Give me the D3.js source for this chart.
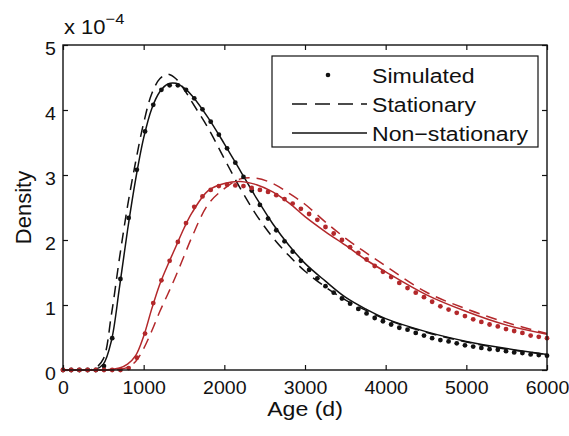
<!DOCTYPE html>
<html>
<head>
<meta charset="utf-8">
<script src="https://cdn.jsdelivr.net/npm/d3@7/dist/d3.min.js"></script>
<style>
body { margin: 0; background: #fff; }
svg { display: block; font-family: "Liberation Sans", Arial, Helvetica, sans-serif; }
</style>
</head>
<body>
<div id="chart"></div>
<script>
// simulated sample ages (60 samples, 0 .. 6000 d)
var simAge = [0, 102, 203, 305, 407, 508, 610, 712, 814, 915, 1017, 1119, 1220, 1322, 1424, 1525, 1627, 1729, 1831, 1932,
    2034, 2136, 2237, 2339, 2441, 2542, 2644, 2746, 2847, 2949, 3051, 3153, 3254, 3356, 3458, 3559, 3661, 3763, 3864, 3966,
    4068, 4169, 4271, 4373, 4475, 4576, 4678, 4780, 4881, 4983, 5085, 5186, 5288, 5390, 5492, 5593, 5695, 5797, 5898, 6000];
// density, in units of 1e-4
var simBlack = [0, 0, 0, 0, 0, 0.06, 0.49, 1.40, 2.34, 3.08, 3.67, 4.08, 4.31, 4.38, 4.38, 4.31, 4.18, 4.01, 3.82, 3.62,
    3.41, 3.19, 2.97, 2.76, 2.54, 2.33, 2.15, 1.98, 1.82, 1.68, 1.54, 1.41, 1.29, 1.19, 1.10, 1.02, 0.94, 0.87, 0.80, 0.75,
    0.70, 0.65, 0.62, 0.57, 0.53, 0.49, 0.46, 0.44, 0.41, 0.38, 0.36, 0.34, 0.32, 0.31, 0.29, 0.27, 0.26, 0.24, 0.23, 0.22];
var simRed = [0, 0, 0, 0, 0, 0, 0, 0, 0.03, 0.19, 0.56, 1.03, 1.38, 1.68, 1.97, 2.26, 2.51, 2.67, 2.77, 2.83,
    2.85, 2.84, 2.83, 2.80, 2.77, 2.74, 2.69, 2.63, 2.56, 2.48, 2.40, 2.31, 2.20, 2.10, 2.00, 1.89, 1.80, 1.70, 1.60, 1.51,
    1.43, 1.34, 1.26, 1.19, 1.12, 1.05, 0.98, 0.93, 0.88, 0.83, 0.78, 0.74, 0.70, 0.67, 0.63, 0.60, 0.57, 0.53, 0.51, 0.49];

// fitted curves
var fitAge = [0, 300, 400, 500, 600, 700, 800, 900, 1000, 1100, 1200, 1300, 1400, 1500, 1600, 1800, 2000, 2200, 2400, 2600,
    2800, 3000, 3250, 3500, 3750, 4000, 4500, 5000, 5500, 6000];
var statBlack = [0, 0, 0.03, 0.17, 0.85, 1.72, 2.52, 3.20, 3.80, 4.25, 4.48, 4.55, 4.48, 4.32, 4.12, 3.72, 3.25, 2.79, 2.38, 2.04,
    1.76, 1.52, 1.28, 1.08, 0.92, 0.78, 0.58, 0.43, 0.32, 0.24];
var nonstatBlack = [0, 0, 0.01, 0.09, 0.45, 1.27, 2.15, 2.93, 3.57, 4.02, 4.28, 4.40, 4.41, 4.34, 4.22, 3.88, 3.48, 3.06, 2.64, 2.25,
    1.92, 1.64, 1.37, 1.12, 0.94, 0.79, 0.59, 0.44, 0.33, 0.24];
var statRed = [0, 0, 0, 0, 0, 0.01, 0.04, 0.13, 0.33, 0.60, 0.90, 1.17, 1.45, 1.75, 2.05, 2.55, 2.79, 2.94, 2.95, 2.87,
    2.72, 2.55, 2.28, 2.03, 1.81, 1.60, 1.20, 0.94, 0.73, 0.56];
var nonstatRed = [0, 0, 0, 0, 0.01, 0.03, 0.09, 0.22, 0.52, 0.94, 1.32, 1.62, 1.90, 2.18, 2.42, 2.76, 2.87, 2.90, 2.85, 2.74,
    2.57, 2.36, 2.13, 1.92, 1.70, 1.51, 1.16, 0.90, 0.69, 0.55];

var xTicks = [0, 1000, 2000, 3000, 4000, 5000, 6000];
var yTicks = [0, 1, 2, 3, 4, 5];
var legendLabels = ["Simulated", "Stationary", "Non\u2212stationary"];

var W = 569, H = 436;
var margin = { top: 45, right: 22, bottom: 66, left: 63 };
var w = W - margin.left - margin.right, h = H - margin.top - margin.bottom;
var RED = "#b3282b", BLACK = "#111";
var SX = "scale(1.1,1)"; // text in the figure is a little wide

var svg = d3.select("#chart").append("svg").attr("width", W).attr("height", H);
var g = svg.append("g").attr("transform", "translate(" + margin.left + "," + margin.top + ")");

var x = d3.scaleLinear().domain([0, 6000]).range([0, w]);
var y = d3.scaleLinear().domain([0, 5]).range([h, 0]);

// axes, ticks pointing inward on all four sides
function styleAxis(sel) {
    sel.select(".domain").remove();
    sel.selectAll(".tick line").attr("stroke", BLACK).attr("stroke-width", 1.2);
    sel.selectAll(".tick text").attr("fill", BLACK).style("font-size", "19px").attr("transform", "scale(1.03,1)");
}
g.append("g").attr("transform", "translate(0," + h + ")")
    .call(d3.axisBottom(x).tickValues(xTicks).tickFormat(d3.format("d")).tickSizeInner(-5).tickSizeOuter(0).tickPadding(11))
    .call(styleAxis);
g.append("g")
    .call(d3.axisLeft(y).tickValues(yTicks).tickFormat(d3.format("d")).tickSizeInner(-5).tickSizeOuter(0).tickPadding(7))
    .call(styleAxis)
    .selectAll(".tick text").attr("dy", "0.5em");
g.append("g")
    .call(d3.axisTop(x).tickValues(xTicks).tickSizeInner(-5).tickSizeOuter(0).tickFormat(""))
    .call(styleAxis);
g.append("g").attr("transform", "translate(" + w + ",0)")
    .call(d3.axisRight(y).tickValues(yTicks).tickSizeInner(-5).tickSizeOuter(0).tickFormat(""))
    .call(styleAxis);

// curves
var line = d3.line().x(function(d) { return x(d[0]); }).y(function(d) { return y(d[1]); })
    .curve(d3.curveCatmullRom.alpha(0.5));
var curves = [
    { v: statBlack, c: BLACK, dash: "11,7" },
    { v: nonstatBlack, c: BLACK, dash: null },
    { v: statRed, c: RED, dash: "11,7" },
    { v: nonstatRed, c: RED, dash: null }
];
curves.forEach(function(s) {
    g.append("path").datum(d3.zip(fitAge, s.v))
        .attr("fill", "none").attr("stroke", s.c).attr("stroke-width", 1.5)
        .attr("stroke-dasharray", s.dash).attr("d", line);
});

// simulated points
[[simBlack, BLACK], [simRed, RED]].forEach(function(s) {
    g.append("g").selectAll("circle").data(d3.zip(simAge, s[0])).join("circle")
        .attr("cx", function(d) { return x(d[0]); })
        .attr("cy", function(d) { return y(d[1]); })
        .attr("r", 2.4).attr("fill", s[1]);
});

// frame
g.append("rect").attr("width", w).attr("height", h)
    .attr("fill", "none").attr("stroke", BLACK).attr("stroke-width", 1.4);

// axis labels + exponent
svg.append("text").attr("transform", "translate(" + (margin.left + w / 2) + ",416) " + SX)
    .attr("text-anchor", "middle").style("font-size", "21px").attr("fill", BLACK).text("Age (d)");
svg.append("text").attr("transform", "translate(31," + (margin.top + h / 2) + ") rotate(-90)")
    .attr("text-anchor", "middle").style("font-size", "22px").attr("fill", BLACK).text("Density");
var ex = svg.append("text").attr("transform", "translate(64,34) " + SX).style("font-size", "20px").attr("fill", BLACK);
ex.append("tspan").text("x 10");
ex.append("tspan").attr("dy", -10).style("font-size", "15px").text("\u22124");

// legend
var lg = svg.append("g").attr("transform", "translate(272,56)");
lg.append("rect").attr("width", 266).attr("height", 91)
    .attr("fill", "#fff").attr("stroke", BLACK).attr("stroke-width", 1.2);
legendLabels.forEach(function(t, i) {
    var yy = 19 + i * 29;
    if (i === 0) lg.append("circle").attr("cx", 56).attr("cy", yy).attr("r", 2.3).attr("fill", BLACK);
    else lg.append("line").attr("x1", 20).attr("x2", 95).attr("y1", yy).attr("y2", yy)
        .attr("stroke", BLACK).attr("stroke-width", 1.3).attr("stroke-dasharray", i === 1 ? "15,8" : null);
    lg.append("text").attr("transform", "translate(100," + yy + ") " + SX).attr("dy", "0.36em")
        .style("font-size", "21px").attr("fill", BLACK).text(t);
});
</script>
</body>
</html>
